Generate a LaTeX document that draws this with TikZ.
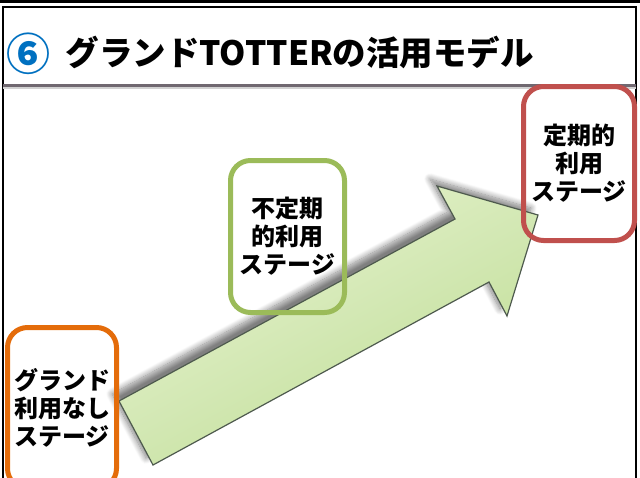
\documentclass[tikz,border=0pt]{standalone}
\usepackage{fontspec}
\setmainfont{Noto Sans CJK JP}
\usetikzlibrary{shadows.blur}
\definecolor{stageorange}{RGB}{228,108,10}
\definecolor{stagegreen}{RGB}{155,187,89}
\definecolor{stagered}{RGB}{192,80,77}
\definecolor{arrowgreen}{RGB}{192,222,148}
\definecolor{arrowlight}{RGB}{232,244,206}
\definecolor{arrowedge}{RGB}{78,90,78}
\definecolor{titleblue}{RGB}{0,112,192}
\definecolor{rulegray}{RGB}{112,104,112}

\begin{document}
\begin{tikzpicture}[x=1pt, y=-1pt,
	stage/.style={rounded corners=20, line width=5, inner sep=0, align=center,
		font=\bfseries\fontsize{24}{28}\selectfont}]
	\useasboundingbox (0,0) rectangle (640,477);

	\fill[black] (0,0) rectangle (640,2.5);
	\draw[line width=1.2] (3,480) -- (3,7) -- (636,7) -- (636,480);
	\draw[line width=3, rulegray] (3,85) -- (636,85);
	\draw[line width=2, gray!35] (3,88) -- (636,88);

	\node at (28,54) [text=titleblue, font=\bfseries\fontsize{44}{44}\selectfont] (num) {⑥};
	\node at (62,52) [anchor=west, font=\bfseries\fontsize{33.5}{34}\selectfont] (title) {グランドTOTTERの活用モデル};

	\shade[blur shadow={shadow xshift=-7pt, shadow yshift=7pt, shadow blur radius=6pt, shadow opacity=50, shadow blur steps=12},
		top color=arrowlight, bottom color=arrowgreen, middle color=arrowgreen!70!white,
		shading angle=28.5, draw=arrowedge, line width=1.2]
		(119,401) -- (455,219) -- (437,186) -- (538,215) -- (507,316) -- (489,282) -- (153,465) -- cycle;

	\node at (62,408) [stage, draw=stageorange, minimum width=109, minimum height=161] (none) {グランド\\利用なし\\ステージ};
	\node at (287.5,236.5) [stage, draw=stagegreen, minimum width=114, minimum height=152] (irregular) {不定期\\的利用\\ステージ};
	\node at (579,163.5) [stage, draw=stagered, minimum width=111, minimum height=154] (regular) {定期的\\利用\\ステージ};
\end{tikzpicture}
\end{document}
